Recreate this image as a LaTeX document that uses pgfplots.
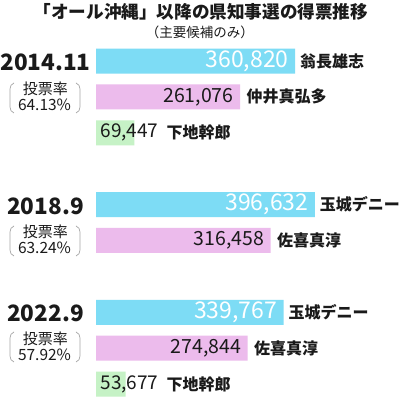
\documentclass[border=0pt]{standalone}
\usepackage{fontspec}
\setmainfont{Noto Sans CJK JP}
\usepackage{pgfplots}
\usepackage{pgfplotstable}
\pgfplotsset{compat=1.18}
\definecolor{cy}{HTML}{7DDCF5}
\definecolor{pk}{HTML}{ECBBEC}
\definecolor{gr}{HTML}{C6F2C6}
\definecolor{txt}{HTML}{1A1A1A}

\pgfplotstableread{
r v name
0 360820 翁長雄志
4 396632 玉城デニー
7 339767 玉城デニー
}\tblblue
\pgfplotstableread{
r v name
1 261076 仲井真弘多
5 316458 佐喜真淳
8 274844 佐喜真淳
}\tblpink
\pgfplotstableread{
r v name
2 69447 下地幹郎
9 53677 下地幹郎
}\tblgreen

\newcommand\fs[1]{\fontsize{#1}{#1}\selectfont}

\begin{document}
\begin{tikzpicture}[x=1pt,y=1pt]
\useasboundingbox (0,0) rectangle (400,-398);
\fill[white] (0,0) rectangle (400,-398);
\node[font=\bfseries\fs{17.6}, text=txt] at (201,-11.5) {「オール沖縄」以降の県知事選の得票推移};
\node[font=\fs{13.5}, text=txt] at (200,-32) {（主要候補のみ）};
\begin{axis}[at={(96pt,-43.05pt)}, anchor=north west, scale only axis,
  width=276pt, height=359pt, xmin=0, xmax=500000, ymin=-0.5, ymax=9.5,
  y dir=reverse, hide axis, clip=false,
  /pgf/number format/.cd, 1000 sep={,}, fixed, precision=0, assume math mode=true]
% blue
\addplot[xbar, bar shift=0pt, bar width=25pt, fill=cy, draw=none, point meta=x,
  nodes near coords, every node near coord/.append style={anchor=east, xshift=-3pt, text=white, font=\fs{23}}]
  table[x=v,y=r]{\tblblue};
\addplot[draw=none, point meta=explicit symbolic, nodes near coords,
  every node near coord/.append style={anchor=west, xshift=1.5pt, text=txt, font=\bfseries\fs{16}}]
  table[x=v,y=r,meta=name]{\tblblue};
% pink
\addplot[xbar, bar shift=0pt, bar width=25pt, fill=pk, draw=none, point meta=x,
  nodes near coords, every node near coord/.append style={anchor=east, xshift=-3pt, text=txt, font=\fs{19.5}}]
  table[x=v,y=r]{\tblpink};
\addplot[draw=none, point meta=explicit symbolic, nodes near coords,
  every node near coord/.append style={anchor=west, xshift=3pt, text=txt, font=\bfseries\fs{16}}]
  table[x=v,y=r,meta=name]{\tblpink};
% green
\addplot[xbar, bar shift=0pt, bar width=25pt, fill=gr, draw=none]
  table[x=v,y=r]{\tblgreen};
\addplot[draw=none, point meta=explicit, nodes near coords,
  every node near coord/.append style={anchor=west, xshift=1pt, text=txt, font=\fs{19}}]
  table[x expr=0,y=r,meta=v]{\tblgreen};
\addplot[draw=none, point meta=explicit symbolic, nodes near coords,
  every node near coord/.append style={anchor=west, xshift=67pt, text=txt, font=\bfseries\fs{16}}]
  table[x expr=0,y=r,meta=name]{\tblgreen};
\end{axis}
% years and turnout
\node[font=\bfseries\fs{22.5}, text=txt] at (45.5,-62) {2014.11};
\node[font=\fs{15}, text=txt] at (45.5,-89) {投票率};
\node[font=\fs{15.5}, text=txt] at (44.5,-104.5) {64.13\%};
\draw[gray!70, line width=0.7pt] (14,-83) to[out=200,in=90] (10,-89) -- (10,-107) to[out=-90,in=160] (14,-113);
\draw[gray!70, line width=0.7pt] (76,-83) to[out=-20,in=90] (80,-89) -- (80,-107) to[out=-90,in=20] (76,-113);

\node[font=\bfseries\fs{22.5}, text=txt] at (45.5,-206) {2018.9};
\node[font=\fs{15}, text=txt] at (45.5,-232) {投票率};
\node[font=\fs{15.5}, text=txt] at (44.5,-248) {63.24\%};
\draw[gray!70, line width=0.7pt] (14,-226) to[out=200,in=90] (10,-232) -- (10,-250) to[out=-90,in=160] (14,-256);
\draw[gray!70, line width=0.7pt] (76,-226) to[out=-20,in=90] (80,-232) -- (80,-250) to[out=-90,in=20] (76,-256);

\node[font=\bfseries\fs{22.5}, text=txt] at (45.5,-313) {2022.9};
\node[font=\fs{15}, text=txt] at (45.5,-338.5) {投票率};
\node[font=\fs{15.5}, text=txt] at (44.5,-354.5) {57.92\%};
\draw[gray!70, line width=0.7pt] (14,-332) to[out=200,in=90] (10,-338) -- (10,-356) to[out=-90,in=160] (14,-362);
\draw[gray!70, line width=0.7pt] (76,-332) to[out=-20,in=90] (80,-338) -- (80,-356) to[out=-90,in=20] (76,-362);
\end{tikzpicture}
\end{document}
